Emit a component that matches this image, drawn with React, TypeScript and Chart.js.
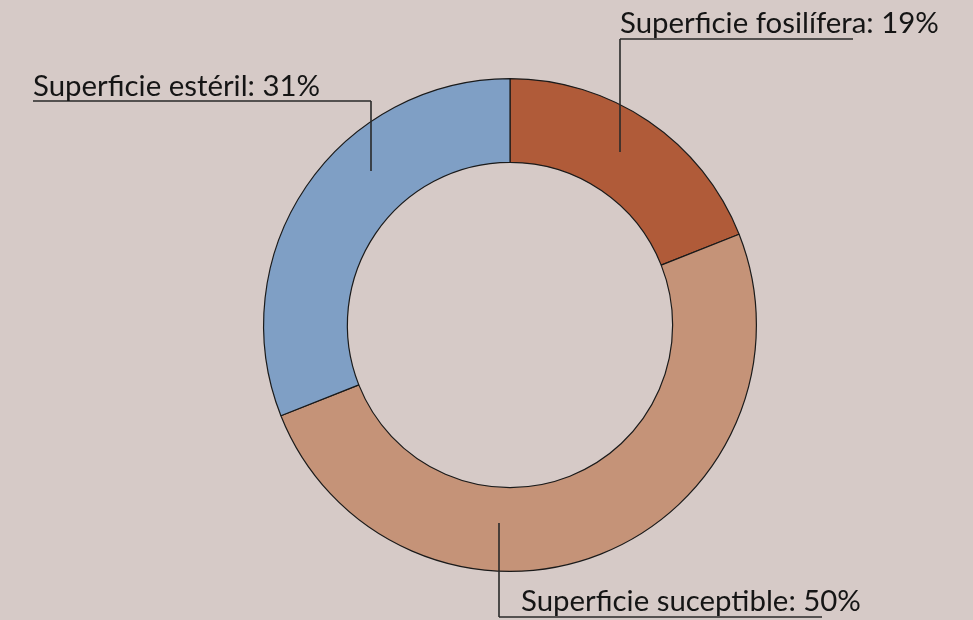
import React, { useEffect, useRef } from "react";
import { Chart, registerables } from "chart.js";

Chart.register(...registerables);

const categories = ["Superficie fosilífera", "Superficie suceptible", "Superficie estéril"];
const values = [19, 50, 31];
const colors = ["#b05b39", "#c59378", "#7f9fc5"];

// label layout relative to doughnut centre: text pos, underline, leader line
const labelLayout = [
  { tx: 110, ty: -292, uy: -286, ux0: 110, ux1: 343, lx: 110, ly0: -286, ly1: -173 },
  { tx: 11, ty: 286, uy: 292, ux0: -11, ux1: 312, lx: -11, ly0: 198, ly1: 292 },
  { tx: -477, ty: -229, uy: -224, ux0: -477, ux1: -139, lx: -139, ly0: -224, ly1: -154 },
];

const FONT = "29.4px Lato";

const leaderPlugin = {
  id: "leaders",
  afterDraw(chart: any) {
    const ctx = chart.ctx;
    const meta = chart.getDatasetMeta(0);
    const arc = meta.data[0];
    const cx = arc.x;
    const cy = arc.y;
    const total = values.reduce((a, b) => a + b, 0);
    ctx.save();
    labelLayout.forEach((l, i) => {
      ctx.strokeStyle = "#2a2a2a";
      ctx.lineWidth = 1.6;
      ctx.beginPath();
      ctx.moveTo(cx + l.ux0, cy + l.uy);
      ctx.lineTo(cx + l.ux1, cy + l.uy);
      ctx.moveTo(cx + l.lx, cy + l.ly0);
      ctx.lineTo(cx + l.lx, cy + l.ly1);
      ctx.stroke();
      ctx.fillStyle = "#151515";
      ctx.font = FONT;
      ctx.textAlign = "left";
      ctx.textBaseline = "alphabetic";
      const pct = Math.round((values[i] / total) * 100);
      ctx.fillText(`${categories[i]}: ${pct}%`, cx + l.tx, cy + l.ty);
    });
    ctx.restore();
  },
};

export default function App() {
  const ref = useRef<HTMLCanvasElement>(null);
  useEffect(() => {
    document.body.style.margin = "0";
    document.body.style.background = "#d6cac7";
    const chart = new Chart(ref.current!, {
      type: "doughnut",
      data: {
        labels: categories,
        datasets: [
          {
            data: values,
            backgroundColor: colors,
            borderColor: "#1a1a1a",
            borderWidth: 1.2,
            cutout: "66%",
          },
        ],
      },
      options: {
        responsive: false,
        animation: false,
        layout: { padding: { left: 263, right: 216, top: 78, bottom: 48 } },
        plugins: {
          legend: { display: false },
          tooltip: { enabled: false },
        },
      },
      plugins: [leaderPlugin],
    });
    return () => chart.destroy();
  }, []);
  return (
    <div style={{ width: 973, height: 620, background: "#d6cac7" }}>
      <canvas ref={ref} width={973} height={620} />
    </div>
  );
}
